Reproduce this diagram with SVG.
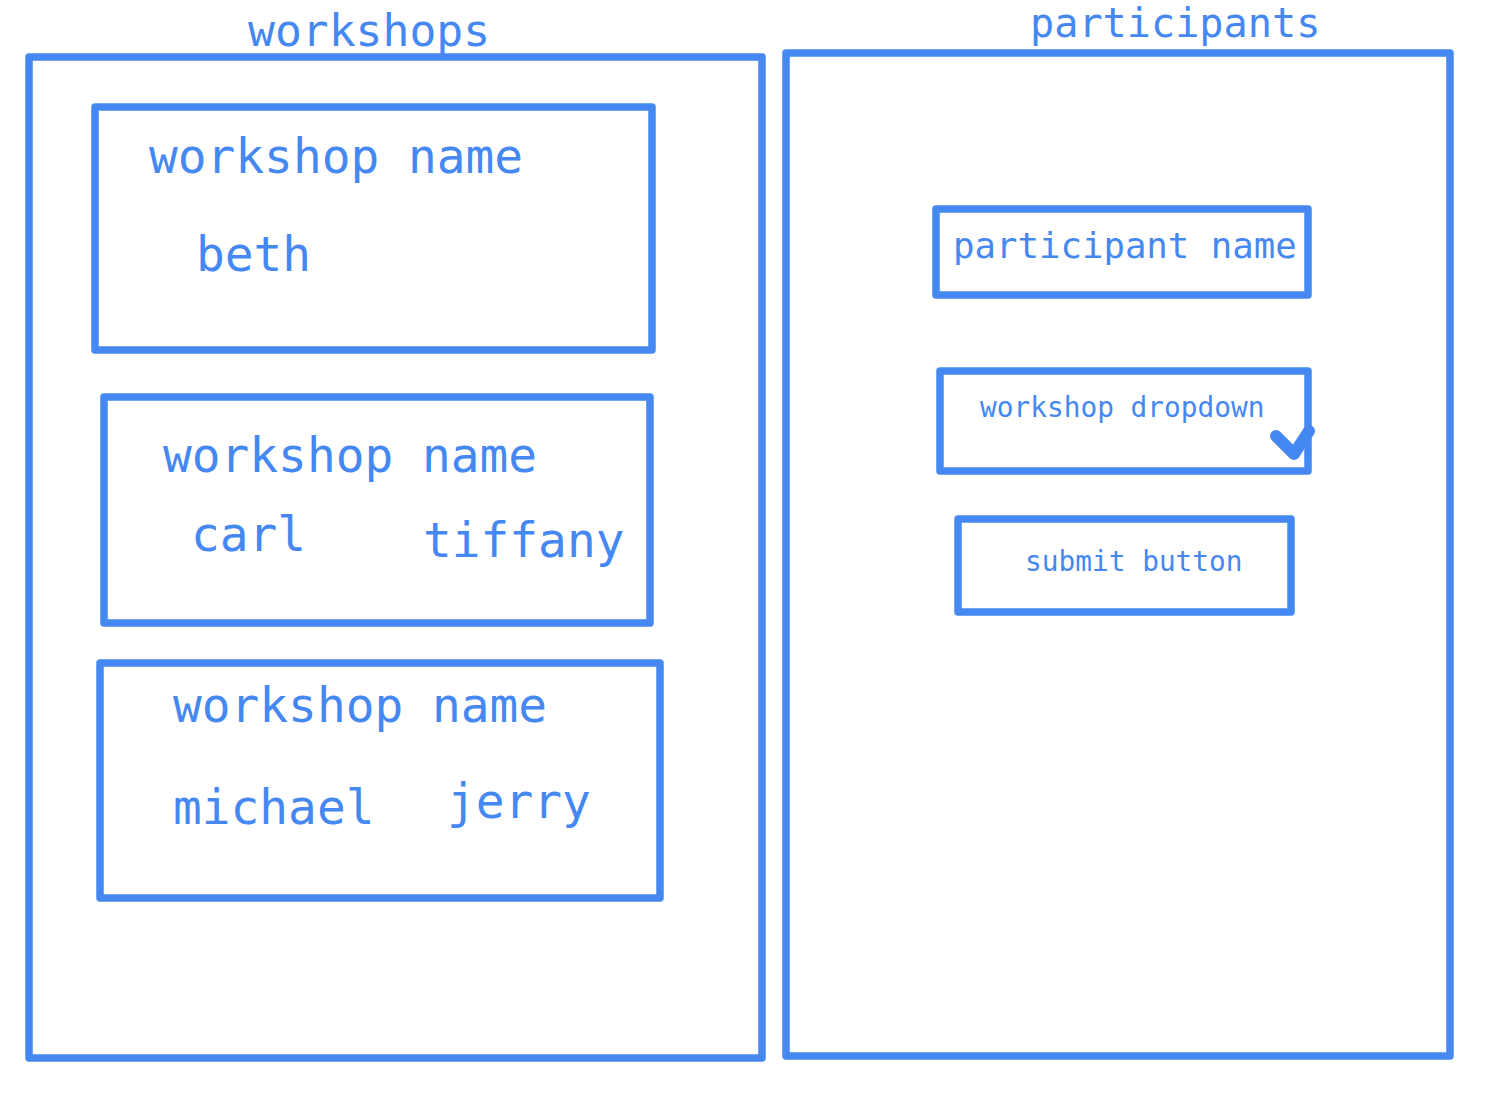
<svg xmlns="http://www.w3.org/2000/svg" width="1493" height="1120" viewBox="0 0 1493 1120">
<style>
.box{fill:none;stroke:#4688f2;stroke-width:7.5;stroke-linejoin:round}
text{font-family:"DejaVu Sans Mono","Liberation Mono",monospace;fill:#4688f2}
.t48{font-size:47.8px}
.t44{font-size:44.7px}
.t40{font-size:40.2px}
.t36{font-size:35.7px}
.t28{font-size:27.8px}
</style>
<rect width="1493" height="1120" fill="#fff"/>
<g id="workshops">
<rect class="box" x="29" y="57" width="733" height="1001"/>
<text class="t44" x="248" y="46">workshops</text>
</g>
<g id="participants">
<rect class="box" x="786" y="53" width="664" height="1003"/>
<text class="t40" x="1030" y="37">participants</text>
</g>
<g id="workshop1">
<rect class="box" x="95" y="107" width="557" height="243"/>
<text class="t48" x="149" y="173">workshop name</text>
<text class="t48" x="196" y="271">beth</text>
</g>
<g id="workshop2">
<rect class="box" x="104" y="397" width="546" height="226"/>
<text class="t48" x="163" y="472">workshop name</text>
<text class="t48" x="191" y="551">carl</text>
<text class="t48" x="423" y="557">tiffany</text>
</g>
<g id="workshop3">
<rect class="box" x="100" y="663" width="560" height="235"/>
<text class="t48" x="173" y="722">workshop name</text>
<text class="t48" x="173" y="824">michael</text>
<text class="t48" x="447" y="818">jerry</text>
</g>
<g id="participant-name">
<rect class="box" x="936" y="209" width="372" height="86"/>
<text class="t36" x="953" y="258">participant name</text>
</g>
<g id="workshop-dropdown">
<rect class="box" x="940" y="371" width="368" height="100"/>
<text class="t28" x="980" y="417">workshop dropdown</text>
<path d="M1276,436 L1294,454 L1309,431" fill="none" stroke="#4688f2" stroke-width="12" stroke-linecap="round" stroke-linejoin="round"/>
</g>
<g id="submit-button">
<rect class="box" x="958" y="519" width="333" height="93"/>
<text class="t28" x="1025" y="571">submit button</text>
</g>
<g id="connectors"/>
</svg>
